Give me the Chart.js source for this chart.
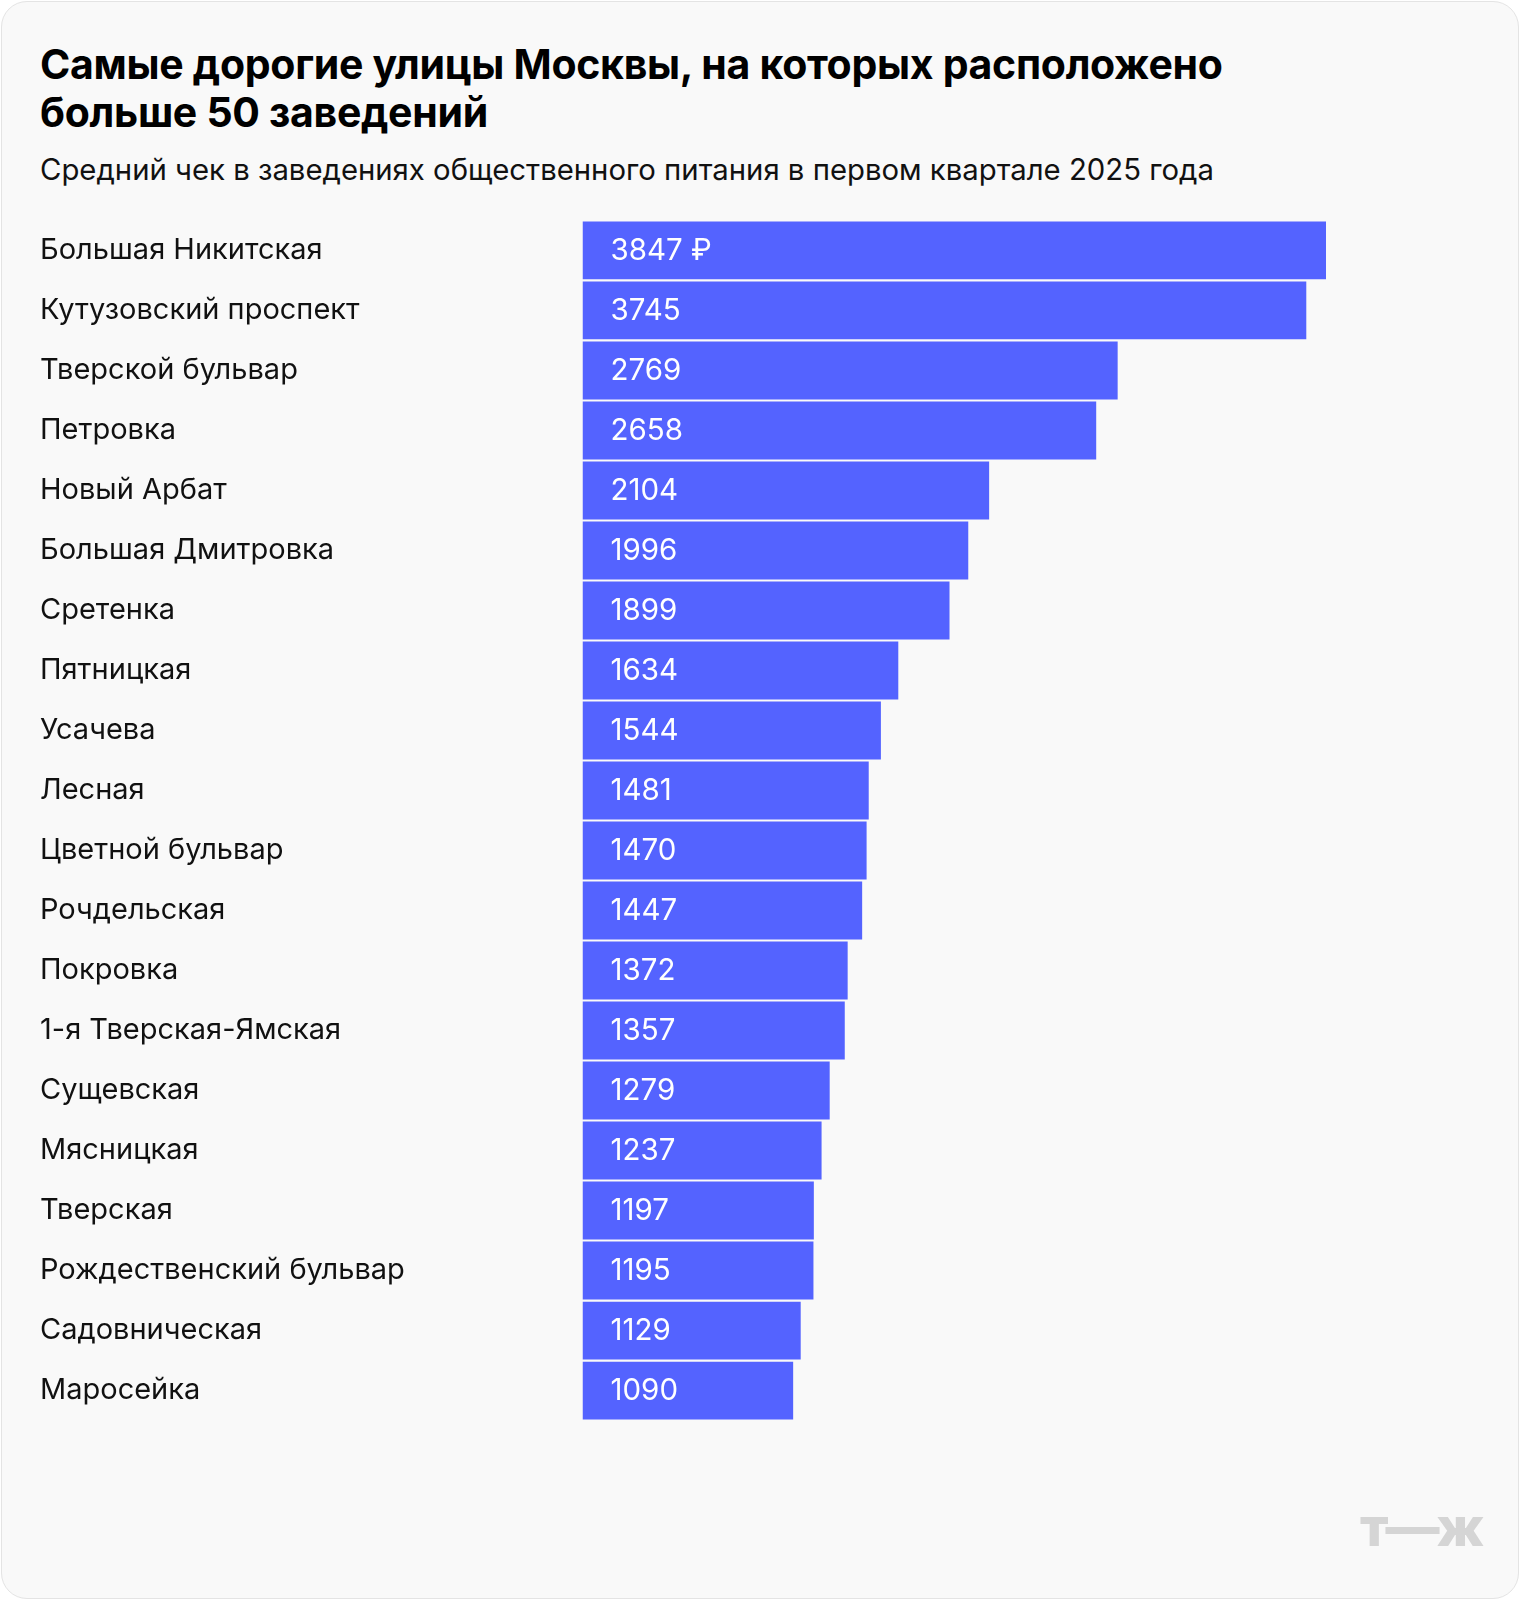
<!DOCTYPE html>
<html><head><meta charset="utf-8">
<script src="https://cdn.jsdelivr.net/npm/chart.js@4"></script>
<style>
body{margin:0;background:#fff;font-family:Inter,"Noto Sans",sans-serif;}
#card{position:absolute;left:1px;top:1px;width:1516px;height:1596px;background:#f9f9f9;border:1px solid #e4e4e4;border-radius:26px;}
h1{position:absolute;left:40px;top:40px;margin:0;font-size:41px;line-height:48px;font-weight:700;color:#000;letter-spacing:-0.3px;}
.sub{position:absolute;left:40px;top:152px;font-size:29.3px;color:#111;}
#wrap{position:absolute;left:40px;top:202.5px;width:1286px;height:1235px;}
.logo{position:absolute;left:1360px;top:1494px;font-size:54px;font-weight:800;color:#d5d5d5;letter-spacing:-3px;}
</style></head><body>
<div id="card"></div>
<h1>Самые дорогие улицы Москвы, на которых расположено<br>больше 50 заведений</h1>
<div class="sub">Средний чек в заведениях общественного питания в первом квартале 2025 года</div>
<div id="wrap"><canvas id="c"></canvas></div>
<div class="logo">т—ж</div>
<script>
const categories=["Большая Никитская","Кутузовский проспект","Тверской бульвар","Петровка","Новый Арбат","Большая Дмитровка","Сретенка","Пятницкая","Усачева","Лесная","Цветной бульвар","Рочдельская","Покровка","1-я Тверская-Ямская","Сущевская","Мясницкая","Тверская","Рождественский бульвар","Садовническая","Маросейка"];
const values=[3847,3745,2769,2658,2104,1996,1899,1634,1544,1481,1470,1447,1372,1357,1279,1237,1197,1195,1129,1090];
const valueLabels=values.map((v,i)=>i===0?v+" ₽":String(v));
const labelPlugin={id:"vl",afterDatasetsDraw(ch){const ctx=ch.ctx;const m=ch.getDatasetMeta(0);ctx.save();ctx.fillStyle="#fff";ctx.font="29.5px Inter";ctx.textBaseline="middle";m.data.forEach((b,i)=>{ctx.fillText(valueLabels[i],b.base+28,b.y+1);});ctx.restore();}};
new Chart(document.getElementById("c"),{type:"bar",data:{labels:categories,datasets:[{data:values,backgroundColor:"#5463ff",borderWidth:0,barPercentage:0.965,categoryPercentage:1}]},
options:{indexAxis:"y",responsive:true,maintainAspectRatio:false,animation:false,layout:{padding:0},
plugins:{legend:{display:false},tooltip:{enabled:false}},
scales:{x:{display:false,min:0,max:3847},y:{grid:{display:false},border:{display:false},afterFit(s){s.width=542.5;},ticks:{crossAlign:"far",padding:0,color:"#111",font:{family:"Inter",size:29}}}}},plugins:[labelPlugin]});
</script></body></html>
